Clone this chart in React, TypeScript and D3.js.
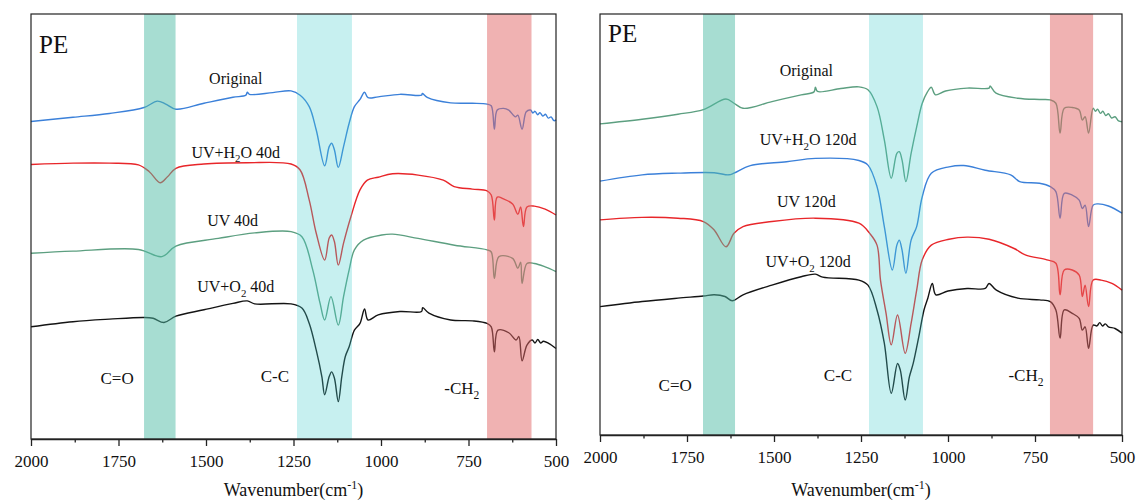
import React, { useRef, useEffect } from 'react';
import * as d3 from 'd3';

type Pt = [number, number];

// x axis
const xTicks = [2000, 1750, 1500, 1250, 1000, 750, 500];
const xMinorTicks = [1875, 1625, 1375, 1125, 875, 625];

// ---- 40 d spectra (left panel), [wavenumber, transmittance a.u.] ----
const pe40Original: Pt[] = [
  [2000, 74.7], [1880, 75.7], [1776, 76.6], [1677, 78.0], [1639, 79.5], [1615, 78.8], [1586, 77.6],
  [1506, 79.0], [1423, 80.4], [1386, 80.9], [1382, 81.6], [1376, 81.1], [1309, 81.5], [1257, 81.9],
  [1231, 80.9], [1205, 78.2], [1185, 72.7], [1161, 64.3], [1148, 68.8], [1141, 69.6], [1133, 68.0],
  [1122, 63.9], [1107, 68.8], [1091, 74.3], [1076, 78.2], [1060, 79.9], [1047, 81.6], [1037, 80.3],
  [1008, 80.5], [946, 81.1], [884, 80.9], [882, 81.3], [868, 80.4], [801, 79.1], [739, 79.0],
  [697, 78.8], [685, 78.4], [676, 72.9], [668, 77.4], [650, 77.8], [635, 77.4], [616, 75.8],
  [609, 76.2], [597, 72.9], [585, 77.0], [573, 77.4], [566, 76.7], [560, 77.1], [552, 76.3],
  [546, 76.8], [538, 76.0], [530, 76.4], [522, 75.5], [514, 75.8], [506, 74.9], [500, 75.1],
];
const pe40UvH2O: Pt[] = [
  [2000, 64.6], [1880, 64.9], [1776, 64.9], [1693, 64.5], [1662, 62.9], [1631, 60.3], [1610, 61.7],
  [1586, 63.7], [1506, 64.7], [1382, 65.0], [1257, 64.7], [1231, 63.3], [1205, 56.2], [1185, 48.4],
  [1161, 42.1], [1148, 47.3], [1141, 48.0], [1133, 46.4], [1122, 40.9], [1107, 46.1], [1086, 52.3],
  [1060, 58.6], [1039, 60.9], [1008, 61.6], [967, 62.4], [894, 62.1], [822, 60.9], [791, 59.4],
  [739, 58.8], [697, 58.4], [685, 57.4], [676, 51.5], [668, 56.9], [650, 56.5], [624, 55.3],
  [609, 52.9], [601, 54.6], [593, 50.0], [583, 54.6], [562, 54.8], [531, 54.1], [500, 52.7],
];
const pe40Uv: Pt[] = [
  [2000, 43.7], [1880, 44.2], [1693, 44.6], [1626, 42.9], [1586, 45.4], [1465, 47.2], [1361, 48.5],
  [1257, 48.8], [1226, 47.6], [1195, 39.8], [1174, 31.9], [1161, 28.0], [1143, 33.5], [1122, 26.8],
  [1107, 33.5], [1091, 39.8], [1076, 44.5], [1050, 46.8], [998, 48.0], [967, 48.2], [894, 47.2],
  [790, 45.6], [697, 44.5], [685, 44.0], [676, 37.8], [663, 42.9], [624, 42.5], [609, 40.2],
  [601, 41.6], [597, 36.6], [583, 41.3], [562, 41.3], [531, 40.5], [500, 39.4],
];
const pe40UvO2: Pt[] = [
  [2000, 26.4], [1880, 27.6], [1776, 28.2], [1677, 28.6], [1651, 28.4], [1620, 27.4], [1586, 28.9],
  [1506, 30.4], [1423, 31.9], [1382, 32.5], [1361, 31.8], [1257, 31.8], [1226, 30.8], [1205, 27.2],
  [1185, 20.9], [1169, 14.7], [1161, 10.4], [1148, 14.7], [1141, 15.8], [1133, 14.3], [1122, 8.8],
  [1112, 14.7], [1102, 19.4], [1091, 21.7], [1076, 25.6], [1060, 27.2], [1047, 30.6], [1037, 28.0],
  [1008, 29.2], [946, 30.0], [884, 30.0], [881, 30.9], [863, 29.6], [801, 28.0], [739, 27.8],
  [697, 27.2], [685, 26.4], [676, 20.5], [666, 25.6], [635, 25.0], [614, 23.3], [606, 24.1],
  [597, 18.4], [583, 22.1], [568, 23.3], [560, 22.6], [552, 23.4], [544, 22.6], [536, 23.0],
  [521, 22.5], [500, 21.3],
];

// ---- 120 d spectra (right panel) ----
const pe120Original: Pt[] = [
  [2000, 73.9], [1879, 75.0], [1776, 76.2], [1703, 77.3], [1638, 79.8], [1615, 78.8], [1589, 77.6],
  [1506, 79.2], [1422, 80.8], [1385, 81.5], [1381, 82.6], [1375, 81.6], [1308, 82.3], [1256, 82.7],
  [1230, 82.0], [1204, 78.0], [1183, 70.1], [1163, 61.0], [1147, 66.9], [1140, 67.3], [1132, 65.3],
  [1121, 60.2], [1106, 66.9], [1090, 73.2], [1074, 78.8], [1059, 81.5], [1048, 82.6], [1036, 80.8],
  [1007, 81.7], [945, 82.4], [882, 82.4], [879, 82.9], [862, 81.2], [799, 80.0], [737, 79.7],
  [706, 79.6], [690, 78.8], [678, 71.7], [666, 77.6], [643, 77.8], [623, 77.2], [614, 74.8],
  [606, 75.6], [596, 71.7], [583, 77.6], [576, 76.9], [570, 77.4], [562, 76.4], [555, 76.9],
  [547, 75.9], [539, 76.3], [530, 75.3], [520, 75.6], [510, 74.6], [500, 74.4],
];
const pe120UvH2O: Pt[] = [
  [2000, 60.3], [1879, 61.8], [1776, 62.2], [1672, 62.3], [1630, 61.8], [1615, 62.2], [1568, 64.0],
  [1464, 64.9], [1381, 65.7], [1256, 65.2], [1230, 64.1], [1204, 59.0], [1183, 49.5], [1160, 39.2],
  [1147, 45.1], [1140, 46.3], [1132, 43.9], [1121, 38.4], [1106, 46.3], [1090, 49.5], [1074, 56.6],
  [1048, 62.2], [997, 63.7], [955, 64.0], [893, 62.9], [820, 61.8], [794, 60.2], [737, 59.8],
  [706, 59.0], [690, 57.8], [678, 51.5], [666, 57.4], [643, 57.0], [623, 55.8], [614, 53.8],
  [606, 54.6], [596, 49.5], [583, 54.6], [570, 54.9], [539, 54.4], [500, 52.7],
];
const pe120Uv: Pt[] = [
  [2000, 51.1], [1879, 51.7], [1776, 51.5], [1703, 50.7], [1672, 48.7], [1638, 44.7], [1615, 47.9],
  [1589, 49.5], [1506, 50.7], [1381, 51.5], [1256, 50.3], [1225, 47.9], [1204, 45.1], [1194, 36.8],
  [1178, 28.9], [1163, 21.4], [1145, 28.5], [1123, 19.4], [1106, 26.5], [1090, 34.4], [1074, 41.6],
  [1048, 45.1], [997, 46.5], [945, 47.0], [882, 46.5], [810, 44.3], [778, 42.8], [716, 41.6],
  [690, 40.8], [678, 33.3], [666, 39.2], [643, 39.2], [623, 38.0], [614, 32.9], [606, 35.6],
  [596, 30.5], [583, 36.8], [560, 36.8], [529, 36.0], [500, 34.4],
];
const pe120UvO2: Pt[] = [
  [2000, 30.5], [1879, 31.7], [1776, 32.5], [1703, 33.0], [1672, 33.3], [1641, 32.9], [1620, 31.9],
  [1589, 33.3], [1506, 35.6], [1422, 37.6], [1381, 38.2], [1360, 37.5], [1256, 36.8], [1230, 35.6],
  [1204, 29.7], [1183, 21.8], [1163, 9.9], [1145, 17.0], [1137, 15.4], [1123, 8.3], [1111, 13.8],
  [1100, 17.0], [1084, 23.3], [1069, 29.7], [1058, 32.5], [1045, 36.0], [1035, 33.3], [1000, 34.2],
  [945, 34.8], [893, 34.8], [882, 36.0], [861, 34.4], [799, 32.5], [737, 32.1], [706, 31.7], [690, 29.7],
  [678, 23.0], [666, 29.7], [643, 28.9], [623, 27.7], [614, 24.9], [606, 25.7], [596, 20.6],
  [583, 26.1], [572, 25.9], [564, 26.7], [556, 25.9], [548, 26.4], [539, 25.7], [520, 25.3], [500, 24.2],
];

// absorption bands [from, to] in cm-1
const bandNames = ['C=O', 'C-C', '-CH_2'];
const bands40: Pt[] = [[1677, 1587], [1240, 1083], [697, 570]];
const bands120: Pt[] = [[1704, 1612], [1227, 1072], [707, 583]];

// series labels
const labels40 = ['Original', 'UV+H_2O 40d', 'UV 40d', 'UV+O_2 40d'];
const labels120 = ['Original', 'UV+H_2O 120d', 'UV 120d', 'UV+O_2 120d'];
const labelAt40: Pt[] = [[1415, 84.9], [1415, 67.5], [1424, 51.5], [1415, 35.8]];
const labelAt120: Pt[] = [[1407, 86.7], [1402, 70.1], [1407, 55.4], [1402, 41.2]];
const bandLabelAt40: Pt[] = [[1754, 14.4], [1303, 14.8], [769, 12.0]];
const bandLabelAt120: Pt[] = [[1784, 11.9], [1316, 14.3], [776, 14.3]];

const colors40 = ['#3b80d9', '#e8262a', '#5c9f80', '#141414'];
const colors120 = ['#5c9f80', '#3b80d9', '#e8262a', '#141414'];
const bandFill = ['rgb(79,187,165)', 'rgb(70,206,206)', 'rgb(225,101,101)'];
const bandAlpha = [0.5, 0.3, 0.5];

const FONT = "'Liberation Serif', 'Times New Roman', Times, 'DejaVu Serif', serif";

function richText(sel: any, s: string, size: number) {
  const parts = s.split(/_(\d)/);
  parts.forEach((p, i) => {
    if (!p) return;
    if (i % 2 === 1) {
      sel.append('tspan').attr('dy', size * 0.28).style('font-size', `${size * 0.68}px`).text(p);
    } else {
      const t = sel.append('tspan').text(p);
      if (i > 0) t.attr('dy', -size * 0.28);
    }
  });
}

function drawPanel(
  g: any,
  box: { x0: number; x1: number; y0: number; y1: number; peY: number },
  series: Pt[][],
  colors: string[],
  labels: string[],
  labelAt: Pt[],
  bands: Pt[],
  bandLabelAt: Pt[],
) {
  const x = d3.scaleLinear().domain([2000, 500]).range([box.x0, box.x1]);
  const y = d3.scaleLinear().domain([0, 100]).range([box.y1, box.y0]);
  const line = d3
    .line<Pt>()
    .x((d) => x(d[0]))
    .y((d) => y(d[1]))
    .curve(d3.curveCatmullRom.alpha(0.5));

  series.forEach((s, i) => {
    g.append('path')
      .attr('d', line(s))
      .attr('fill', 'none')
      .attr('stroke', colors[i])
      .attr('stroke-width', 1.4)
      .attr('stroke-linejoin', 'round');
  });

  // bands on top, semi-transparent
  bands.forEach((b, i) => {
    g.append('rect')
      .attr('x', x(b[0]))
      .attr('width', x(b[1]) - x(b[0]))
      .attr('y', box.y0)
      .attr('height', box.y1 - box.y0)
      .attr('fill', bandFill[i])
      .attr('opacity', bandAlpha[i]);
  });

  labels.forEach((l, i) => {
    const t = g
      .append('text')
      .attr('x', x(labelAt[i][0]))
      .attr('y', y(labelAt[i][1]))
      .attr('dy', '0.35em')
      .attr('text-anchor', 'middle')
      .style('font-family', FONT)
      .style('font-size', '16px')
      .attr('fill', '#111');
    richText(t, l, 16);
  });

  bandNames.forEach((l, i) => {
    const t = g
      .append('text')
      .attr('x', x(bandLabelAt[i][0]))
      .attr('y', y(bandLabelAt[i][1]))
      .attr('dy', '0.35em')
      .attr('text-anchor', 'middle')
      .style('font-family', FONT)
      .style('font-size', '17px')
      .attr('fill', '#111');
    richText(t, l, 17);
  });

  g.append('text')
    .attr('x', box.x0 + 8)
    .attr('y', box.peY)
    .style('font-family', FONT)
    .style('font-size', '25px')
    .attr('fill', '#111')
    .text('PE');

  // frame
  g.append('rect')
    .attr('x', box.x0)
    .attr('y', box.y0)
    .attr('width', box.x1 - box.x0)
    .attr('height', box.y1 - box.y0)
    .attr('fill', 'none')
    .attr('stroke', '#222')
    .attr('stroke-width', 1.2);

  const axis = g.append('g').attr('transform', `translate(0,${box.y1})`);
  axis.call(d3.axisBottom(x).tickValues(xTicks).tickSize(7).tickSizeOuter(0).tickPadding(9).tickFormat(d3.format('d')));
  axis.attr('font-family', null).attr('font-size', null);
  axis.select('.domain').attr('stroke', '#222').attr('stroke-width', 1.5);
  axis.selectAll('.tick line').attr('stroke', '#222').attr('stroke-width', 1.3);
  axis.selectAll('text').style('font-family', FONT).style('font-size', '17px').attr('fill', '#111');

  const minor = g.append('g').attr('transform', `translate(0,${box.y1})`);
  minor.call(d3.axisBottom(x).tickValues(xMinorTicks).tickSize(3.5).tickSizeOuter(0).tickFormat(() => ''));
  minor.select('.domain').remove();
  minor.selectAll('.tick line').attr('stroke', '#222').attr('stroke-width', 1.3);

  const title = g
    .append('text')
    .attr('x', (box.x0 + box.x1) / 2)
    .attr('y', 496)
    .attr('text-anchor', 'middle')
    .style('font-family', FONT)
    .style('font-size', '18px')
    .attr('fill', '#111');
  title.append('tspan').text('Wavenumber(cm');
  title.append('tspan').attr('dy', -7).style('font-size', '12px').text('-1');
  title.append('tspan').attr('dy', 7).text(')');
}

export default function App() {
  const ref = useRef<SVGSVGElement>(null);

  useEffect(() => {
    if (!ref.current) return;
    const svg = d3.select(ref.current);
    svg.selectAll('*').remove();

    drawPanel(
      svg.append('g'),
      { x0: 31, x1: 556, y0: 14, y1: 439, peY: 53 },
      [pe40Original, pe40UvH2O, pe40Uv, pe40UvO2],
      colors40,
      labels40,
      labelAt40,
      bands40,
      bandLabelAt40,
    );
    drawPanel(
      svg.append('g'),
      { x0: 600, x1: 1122, y0: 14, y1: 435, peY: 42 },
      [pe120Original, pe120UvH2O, pe120Uv, pe120UvO2],
      colors120,
      labels120,
      labelAt120,
      bands120,
      bandLabelAt120,
    );
  }, []);

  return (
    <svg
      ref={ref}
      width={1137}
      height={500}
      style={{ position: 'absolute', left: 0, top: 0, background: '#fff' }}
    />
  );
}
